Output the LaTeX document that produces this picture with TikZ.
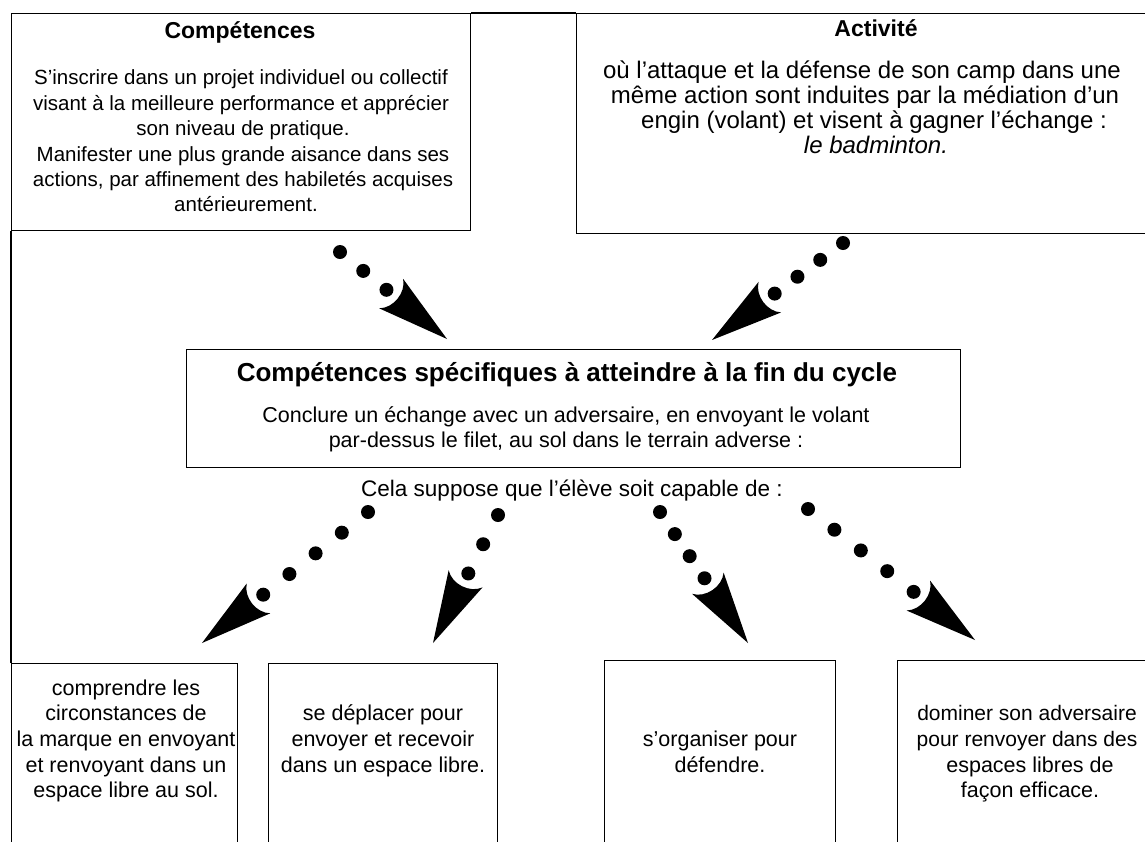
\documentclass[tikz,border=0pt]{standalone}
\usepackage{fontspec}
\setmainfont{Liberation Sans}
\usetikzlibrary{calc,decorations.markings}
\newcommand\bodyfont{\fontsize{20.5}{24}\selectfont}
\newcommand\midfont{\fontsize{21.5}{24}\selectfont}
\newcommand\actfont{\fontsize{24}{25}\selectfont}
\newcommand\titlefont{\fontsize{23}{26}\selectfont\bfseries}
\newcommand\bigtitlefont{\fontsize{26}{28}\selectfont\bfseries}
\newcommand\dotarrow[4]{%
  \coordinate (#1l) at ($(#3)!78pt!(#2)$);
  \pgfmathtruncatemacro\nn{#4-1}%
  \foreach \k in {0,...,\nn}{\fill ($(#2)!\k/\nn!(#1l)$) circle[radius=7pt];}
  \path[decoration={markings,mark=at position 1 with {\fill (0pt,0pt) -- (-72pt,19pt) .. controls (-61pt,10pt) and (-61pt,-10pt) .. (-72pt,-19pt) -- cycle;}},decorate] (#2) -- (#3);
}
\begin{document}
\begin{tikzpicture}[x=1pt,y=-1pt,
  box/.style={draw, line width=1.3pt, anchor=north west, inner sep=0pt},
  body/.style={anchor=base, inner sep=0pt, font=\bodyfont},
  mid/.style={anchor=base, inner sep=0pt, font=\midfont},
  act/.style={anchor=base, inner sep=0pt, font=\actfont},
  ttl/.style={anchor=base, inner sep=0pt, font=\titlefont},
  bigttl/.style={anchor=base, inner sep=0pt, font=\bigtitlefont}]
\useasboundingbox (0,0) rectangle (1145,841);
% boxes
\node[box, minimum width=459pt, minimum height=217pt] (comp) at (11,13) {};
\node[box, minimum width=600pt, minimum height=220pt] (act) at (576,13) {};
\node[box, minimum width=774pt, minimum height=118pt] (spec) at (186,349) {};
\node[box, minimum width=226pt, minimum height=260pt] (ba) at (11,663) {};
\node[box, minimum width=229pt, minimum height=260pt] (bb) at (268,663) {};
\node[box, minimum width=231pt, minimum height=260pt] (bc) at (604,660) {};
\node[box, minimum width=300pt, minimum height=260pt] (bd) at (897,660) {};
\draw[line width=1.3pt] (comp.north east) -- (act.north west);
\draw[line width=1.3pt] (comp.south west) -- (ba.north west);
% box 1 text
\node[ttl] (t1) at (240,38) {Compétences};
\node[body] (c1) at (241,84) {S’inscrire dans un projet individuel ou collectif};
\node[body] (c2) at (241,110) {visant à la meilleure performance et apprécier};
\node[body] (c3) at (243,135) {son niveau de pratique.};
\node[body] (c4) at (243,161) {Manifester une plus grande aisance dans ses};
\node[body] (c5) at (243,186) {actions, par affinement des habiletés acquises};
\node[body] (c6) at (246,211) {antérieurement.};
% box 2 text
\node[ttl] (t2) at (876,36) {Activité};
\node[act] (a1) at (862,78) {où l’attaque et la défense de son camp dans une};
\node[act] (a2) at (865,103) {même action sont induites par la médiation d’un};
\node[act] (a3) at (874,128) {engin (volant) et visent à gagner l’échange :};
\node[act,font=\actfont\itshape] (a4) at (876,153) {le badminton.};
% central box
\node[bigttl] (t3) at (567,381) {Compétences spécifiques à atteindre à la fin du cycle};
\node[mid] (s1) at (566,422) {Conclure un échange avec un adversaire, en envoyant le volant};
\node[mid] (s2) at (566,447) {par-dessus le filet, au sol dans le terrain adverse :};
\node[mid,font=\fontsize{22.5}{24}\selectfont] (cela) at (572,496) {Cela suppose que l’élève soit capable de :};
% lower boxes
\node[mid] (la1) at (126,695) {comprendre les};
\node[mid] (la2) at (126,720) {circonstances de};
\node[mid] (la3) at (126,746) {la marque en envoyant};
\node[mid] (la4) at (126,772) {et renvoyant dans un};
\node[mid] (la5) at (126,797) {espace libre au sol.};
\node[mid] (lb1) at (383,720) {se déplacer pour};
\node[mid] (lb2) at (383,746) {envoyer et recevoir};
\node[mid] (lb3) at (383,772) {dans un espace libre.};
\node[mid] (lc1) at (720,746) {s’organiser pour};
\node[mid] (lc2) at (720,772) {défendre.};
\node[mid,font=\fontsize{21}{24}\selectfont] (ld1) at (1027,720) {dominer son adversaire};
\node[mid,font=\fontsize{21}{24}\selectfont] (ld2) at (1027,746) {pour renvoyer dans des};
\node[mid] (ld3) at (1030,772) {espaces libres de};
\node[mid] (ld4) at (1030,797) {façon efficace.};
% arrows
\coordinate (p1s) at (340,252); \coordinate (p1t) at (447,339);
\coordinate (p2s) at (843,243); \coordinate (p2t) at (712,340);
\coordinate (p3s) at (368,512); \coordinate (p3t) at (202,643);
\coordinate (p4s) at (498,515); \coordinate (p4t) at (433,643);
\coordinate (p5s) at (660,512); \coordinate (p5t) at (748,643);
\coordinate (p6s) at (808,509); \coordinate (p6t) at (975,640);
\dotarrow{p1}{p1s}{p1t}{3}
\dotarrow{p2}{p2s}{p2t}{4}
\dotarrow{p3}{p3s}{p3t}{5}
\dotarrow{p4}{p4s}{p4t}{3}
\dotarrow{p5}{p5s}{p5t}{4}
\dotarrow{p6}{p6s}{p6t}{5}
\end{tikzpicture}
\end{document}
